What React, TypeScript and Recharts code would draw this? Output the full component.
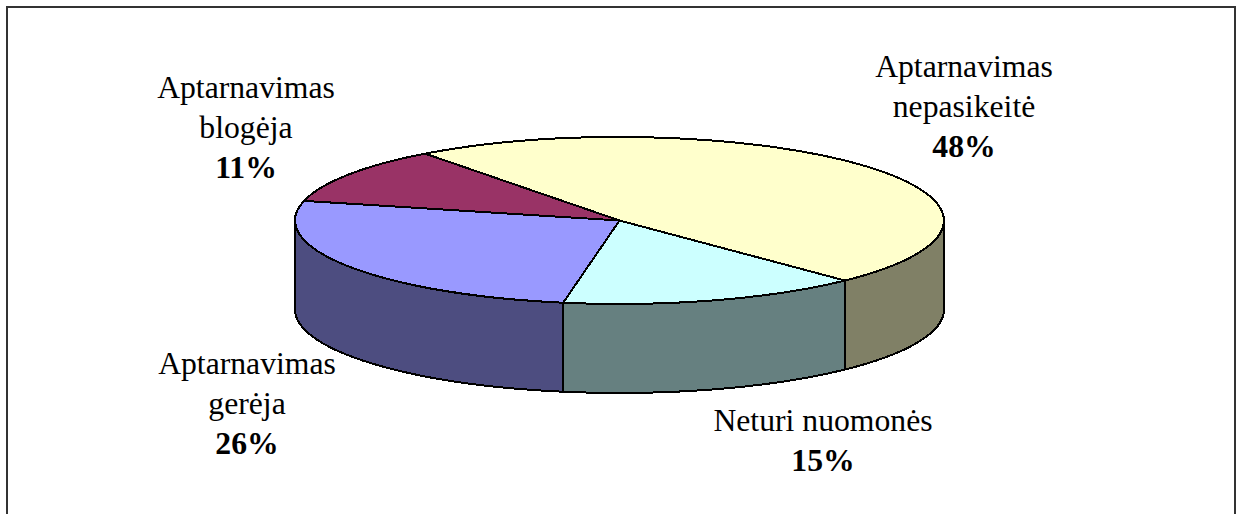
import React from "react";
import { PieChart, Pie, Cell } from "recharts";

const categories = [
  ["Neturi nuomonės"],
  ["Aptarnavimas", "gerėja"],
  ["Aptarnavimas", "blogėja"],
  ["Aptarnavimas", "nepasikeitė"],
];
const shares = [15, 26, 11, 48];
const topColors = ["#CCFFFF", "#9999FF", "#993366", "#FFFFCC"];
const sideColors = ["#668080", "#4D4D80", "#4D1A33", "#808066"];
const labelX = [823, 247, 246, 964];
const labelBaseline = [431, 374, 98, 77];

const WIDTH = 1242;
const HEIGHT = 514;
const CX = 619.5;
const CY = 220.5;
const RX = 324.5;
const RY = 83.5;
const DEPTH = 89;
const LINE_GAP = 40;
const START_ANGLE = -46;

const pieData = categories.map((lines, i) => ({ name: lines.join(" "), value: shares[i] }));

const pt = (t: number, dy = 0) => {
  const r = (t * Math.PI) / 180;
  return `${(CX + RX * Math.cos(r)).toFixed(2)} ${(CY + dy + RY * Math.sin(r)).toFixed(2)}`;
};

// flattened wedge, recharts angles go counter clockwise so t = -angle
const TopSlice = (props: any) => {
  const t1 = -props.startAngle;
  const t2 = -props.endAngle;
  const large = t2 - t1 > 180 ? 1 : 0;
  return (
    <path
      d={`M ${CX} ${CY} L ${pt(t1)} A ${RX} ${RY} 0 ${large} 1 ${pt(t2)} Z`}
      fill={props.fill}
      stroke="#000"
      strokeWidth={2}
      strokeLinejoin="round"
      shapeRendering="crispEdges"
    />
  );
};

// only the front half of the rim can be seen
const SideSlice = (props: any) => {
  const t1 = -props.startAngle;
  const t2 = -props.endAngle;
  const parts: string[] = [];
  [0, 360].forEach((k) => {
    const lo = Math.max(t1, k);
    const hi = Math.min(t2, k + 180);
    if (hi > lo) {
      parts.push(
        `M ${pt(lo)} A ${RX} ${RY} 0 0 1 ${pt(hi)} L ${pt(hi, DEPTH)} A ${RX} ${RY} 0 0 0 ${pt(lo, DEPTH)} Z`
      );
    }
  });
  if (!parts.length) return <g />;
  return (
    <path
      d={parts.join(" ")}
      fill={props.fill}
      stroke="#000"
      strokeWidth={2}
      strokeLinejoin="round"
      shapeRendering="crispEdges"
    />
  );
};

const renderLabel = (props: any) => {
  const i = props.index;
  const lines = categories[i];
  const x = labelX[i];
  const y = labelBaseline[i];
  return (
    <text x={x} textAnchor="middle" fontFamily="Liberation Serif" fontSize={31.7} fill="#000">
      {lines.map((line, n) => (
        <tspan key={line} x={x} y={y + n * LINE_GAP}>
          {line}
        </tspan>
      ))}
      <tspan x={x} y={y + lines.length * LINE_GAP} fontWeight="bold">
        {shares[i]}%
      </tspan>
    </text>
  );
};

export default function App() {
  return (
    <div style={{ position: "absolute", left: 0, top: 0, width: WIDTH, height: HEIGHT, background: "#fff", overflow: "hidden" }}>
      <div
        style={{
          position: "absolute",
          left: 6,
          top: 6,
          width: 1226,
          height: 520,
          borderTop: "2px solid #333",
          borderLeft: "2px solid #333",
          borderRight: "2px solid #333",
        }}
      />
      <div style={{ position: "absolute", left: 0, top: 0 }}>
        <PieChart width={WIDTH} height={HEIGHT} margin={{ top: 0, right: 0, bottom: 0, left: 0 }}>
          <Pie
            data={pieData}
            dataKey="value"
            cx={CX}
            cy={CY}
            outerRadius={RX}
            startAngle={START_ANGLE}
            endAngle={START_ANGLE - 360}
            shape={SideSlice}
            isAnimationActive={false}
          >
            {pieData.map((d, i) => (
              <Cell key={d.name} fill={sideColors[i]} />
            ))}
          </Pie>
          <Pie
            data={pieData}
            dataKey="value"
            cx={CX}
            cy={CY}
            outerRadius={RX}
            startAngle={START_ANGLE}
            endAngle={START_ANGLE - 360}
            shape={TopSlice}
            label={renderLabel}
            labelLine={false}
            isAnimationActive={false}
          >
            {pieData.map((d, i) => (
              <Cell key={d.name} fill={topColors[i]} />
            ))}
          </Pie>
        </PieChart>
      </div>
    </div>
  );
}
